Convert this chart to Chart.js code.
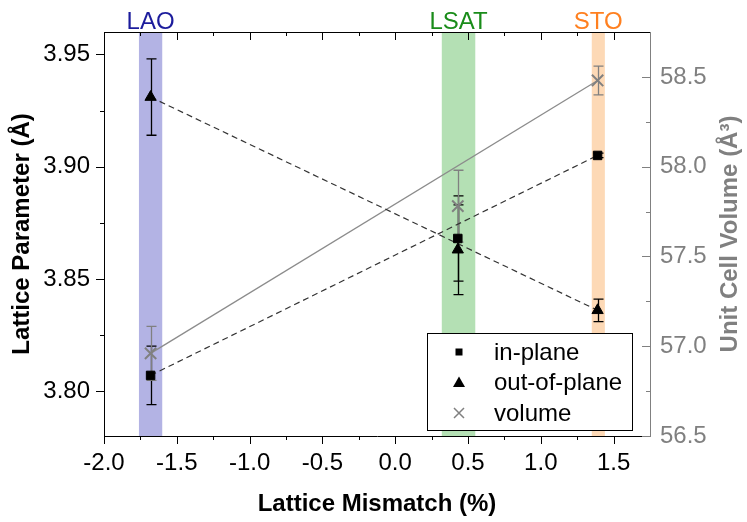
<!DOCTYPE html>
<html>
<head>
<meta charset="utf-8">
<script src="https://cdn.jsdelivr.net/npm/chart.js@4.4.1/dist/chart.umd.min.js"></script>
<style>
  html, body { margin: 0; padding: 0; background: #fff; }
  canvas { display: block; }
</style>
</head>
<body>
<canvas id="lattice-canvas" width="747" height="522"></canvas>
<script>
const FONT = '"Liberation Sans", Arial, sans-serif';

// substrates and their mismatch bands
const substrates = ['LAO', 'LSAT', 'STO'];
const mismatch = [-1.68, 0.43, 1.39];
const bandLo = [-1.76, 0.32, 1.35];
const bandHi = [-1.60, 0.55, 1.44];
const bandFill = ['#b3b3e4', '#b4e0b4', '#fdd9b6'];
const bandText = ['#1c1c9c', '#1a8c1a', '#ff8020'];

// measured values
const inPlane = [3.807, 3.868, 3.905];
const inPlaneErr = [0.013, 0.019, 0.001];
const outOfPlane = [3.931, 3.863, 3.836];
const outOfPlaneErr = [0.017, 0.020, 0.005];
const volume = [56.96, 57.78, 58.48];
const volumeErr = [0.15, 0.20, 0.08];

// axis ticks
const xTicks = [-2.0, -1.5, -1.0, -0.5, 0.0, 0.5, 1.0, 1.5];
const xMinor = [-1.75, -1.25, -0.75, -0.25, 0.25, 0.75, 1.25];
const yTicks = [3.80, 3.85, 3.90, 3.95];
const yMinor = [3.825, 3.875, 3.925];
const y2Ticks = [56.5, 57.0, 57.5, 58.0, 58.5];
const y2Minor = [56.75, 57.25, 57.75, 58.25];

const GRAY = '#808080';

function pts(xs, ys) {
    return xs.map((x, i) => ({ x: x, y: ys[i] }));
}
function ends(xs, ys) {
    const n = xs.length - 1;
    return [{ x: xs[0], y: ys[0] }, { x: xs[n], y: ys[n] }];
}

function drawErrBars(ctx, xScale, yScale, ys, errs, color) {
    ctx.strokeStyle = color;
    ctx.lineWidth = 1.3;
    mismatch.forEach((xv, i) => {
        if (!errs[i]) return;
        const px = Math.round(xScale.getPixelForValue(xv)) + 0.5;
        const top = yScale.getPixelForValue(ys[i] + errs[i]);
        const bot = yScale.getPixelForValue(ys[i] - errs[i]);
        ctx.beginPath();
        ctx.moveTo(px, top); ctx.lineTo(px, bot);
        ctx.moveTo(px - 5, top); ctx.lineTo(px + 5, top);
        ctx.moveTo(px - 5, bot); ctx.lineTo(px + 5, bot);
        ctx.stroke();
    });
}

function drawSymbol(ctx, style, x, y) {
    ctx.beginPath();
    if (style === 'rect') {
        ctx.fillStyle = '#000';
        ctx.fillRect(x - 3.5, y - 3.5, 7, 7);
    } else if (style === 'triangle') {
        ctx.fillStyle = '#000';
        ctx.moveTo(x, y - 6);
        ctx.lineTo(x + 6, y + 4.5);
        ctx.lineTo(x - 6, y + 4.5);
        ctx.closePath();
        ctx.fill();
    } else {
        ctx.strokeStyle = GRAY;
        ctx.lineWidth = 1.5;
        ctx.moveTo(x - 5, y - 5); ctx.lineTo(x + 5, y + 5);
        ctx.moveTo(x + 5, y - 5); ctx.lineTo(x - 5, y + 5);
        ctx.stroke();
    }
}

const decorPlugin = {
    id: 'decor',
    beforeDatasetsDraw(chart) {
        const { ctx, chartArea: a, scales } = chart;
        const x = scales.x;
        ctx.save();
        // substrate bands + names
        substrates.forEach((name, i) => {
            const l = x.getPixelForValue(bandLo[i]);
            const r = x.getPixelForValue(bandHi[i]);
            ctx.fillStyle = bandFill[i];
            ctx.fillRect(l, a.top + 1, r - l, a.bottom - a.top - 1);
            ctx.fillStyle = bandText[i];
            ctx.font = '24px ' + FONT;
            ctx.textAlign = 'center';
            ctx.textBaseline = 'alphabetic';
            ctx.fillText(name, (l + r) / 2, a.top - 3);
        });
        // error bars
        drawErrBars(ctx, x, scales.y, inPlane, inPlaneErr, '#000');
        drawErrBars(ctx, x, scales.y, outOfPlane, outOfPlaneErr, '#000');
        drawErrBars(ctx, x, scales.y2, volume, volumeErr, GRAY);
        ctx.restore();
    },
    afterDraw(chart) {
        const { ctx, chartArea: a, scales } = chart;
        ctx.save();
        ctx.lineWidth = 1;

        // top frame line
        ctx.strokeStyle = '#000';
        ctx.beginPath();
        ctx.moveTo(a.left, a.top + 0.5);
        ctx.lineTo(a.right, a.top + 0.5);
        ctx.stroke();

        // tick marks, major and minor
        const xTick = (vals, len) => {
            vals.forEach(v => {
                const p = Math.round(scales.x.getPixelForValue(v)) + 0.5;
                ctx.beginPath();
                ctx.moveTo(p, a.bottom); ctx.lineTo(p, a.bottom + len);
                ctx.moveTo(p, a.top); ctx.lineTo(p, a.top + len);
                ctx.stroke();
            });
        };
        const yTick = (scale, vals, len, right) => {
            vals.forEach(v => {
                const p = Math.round(scale.getPixelForValue(v)) + 0.5;
                ctx.beginPath();
                if (right) { ctx.moveTo(a.right - len, p); ctx.lineTo(a.right, p); }
                else { ctx.moveTo(a.left - len, p); ctx.lineTo(a.left, p); }
                ctx.stroke();
            });
        };
        ctx.strokeStyle = '#000';
        xTick(xTicks, 8);
        xTick(xMinor, 4);
        yTick(scales.y, yTicks, 8, false);
        yTick(scales.y, yMinor, 4, false);
        ctx.strokeStyle = GRAY;
        yTick(scales.y2, y2Ticks, 8, true);
        yTick(scales.y2, y2Minor, 4, true);

        // right axis title, reading bottom to top
        ctx.save();
        ctx.translate(730, (a.top + a.bottom) / 2);
        ctx.rotate(-Math.PI / 2);
        ctx.fillStyle = GRAY;
        ctx.font = 'bold 24px ' + FONT;
        ctx.textAlign = 'center';
        ctx.textBaseline = 'middle';
        ctx.fillText('Unit Cell Volume (Å³)', 0, 0);
        ctx.restore();

        // legend box
        const bw = 205, bh = 97;
        const bx = a.right - 18 - bw, by = a.bottom - 6 - bh;
        ctx.fillStyle = '#fff';
        ctx.fillRect(bx, by, bw, bh);
        ctx.strokeStyle = '#000';
        ctx.strokeRect(Math.round(bx) + 0.5, Math.round(by) + 0.5, bw, bh);
        const labels = ['in-plane', 'out-of-plane', 'volume'];
        const styles = ['rect', 'triangle', 'crossRot'];
        labels.forEach((t, i) => {
            const cy = by + 19 + i * 30.5;
            drawSymbol(ctx, styles[i], bx + 32, cy);
            ctx.fillStyle = '#000';
            ctx.font = '24px ' + FONT;
            ctx.textAlign = 'left';
            ctx.textBaseline = 'middle';
            ctx.fillText(t, bx + 67, cy + 1);
        });
        ctx.restore();
    }
};

new Chart(document.getElementById('lattice-canvas'), {
    type: 'scatter',
    data: {
        datasets: [
            {
                label: 'in-plane',
                data: pts(mismatch, inPlane),
                yAxisID: 'y',
                pointStyle: 'rect',
                pointRadius: 6,
                borderWidth: 1,
                backgroundColor: '#000',
                borderColor: '#000'
            },
            {
                label: 'out-of-plane',
                data: pts(mismatch, outOfPlane),
                yAxisID: 'y',
                pointStyle: 'triangle',
                pointRadius: 6.5,
                borderWidth: 1,
                backgroundColor: '#000',
                borderColor: '#000'
            },
            {
                label: 'volume',
                data: pts(mismatch, volume),
                yAxisID: 'y2',
                pointStyle: 'crossRot',
                pointRadius: 8,
                borderWidth: 2,
                backgroundColor: GRAY,
                borderColor: GRAY
            },
            {
                label: 'in-plane trend',
                data: ends(mismatch, inPlane),
                yAxisID: 'y',
                showLine: true,
                pointRadius: 0,
                borderColor: '#333',
                borderWidth: 1.2,
                borderDash: [6, 4]
            },
            {
                label: 'out-of-plane trend',
                data: ends(mismatch, outOfPlane),
                yAxisID: 'y',
                showLine: true,
                pointRadius: 0,
                borderColor: '#333',
                borderWidth: 1.2,
                borderDash: [6, 4]
            },
            {
                label: 'volume trend',
                data: ends(mismatch, volume),
                yAxisID: 'y2',
                showLine: true,
                pointRadius: 0,
                borderColor: '#8c8c8c',
                borderWidth: 1.3
            }
        ]
    },
    options: {
        responsive: false,
        animation: false,
        layout: { padding: { top: 32, left: 0, right: 0, bottom: 0 } },
        plugins: {
            legend: { display: false },
            tooltip: { enabled: false }
        },
        scales: {
            x: {
                type: 'linear',
                position: 'bottom',
                min: -2,
                max: 1.75,
                afterBuildTicks: scale => { scale.ticks = xTicks.map(v => ({ value: v })); },
                afterFit: scale => { scale.height = 86; },
                ticks: {
                    color: '#000',
                    padding: 13,
                    maxRotation: 0,
                    font: { family: FONT, size: 24 },
                    callback: v => v.toFixed(1)
                },
                grid: { display: false, drawTicks: false },
                border: { display: true, color: '#000', width: 1 },
                title: {
                    display: true,
                    text: 'Lattice Mismatch (%)',
                    color: '#000',
                    font: { family: FONT, size: 24, weight: 'bold' },
                    padding: { top: 0, bottom: 3 }
                }
            },
            y: {
                type: 'linear',
                position: 'left',
                min: 3.78,
                max: 3.96,
                afterBuildTicks: scale => { scale.ticks = yTicks.map(v => ({ value: v })); },
                afterFit: scale => { scale.width = 104; },
                ticks: {
                    color: '#000',
                    padding: 14,
                    font: { family: FONT, size: 24 },
                    callback: v => v.toFixed(2)
                },
                grid: { display: false, drawTicks: false },
                border: { display: true, color: '#000', width: 1 },
                title: {
                    display: true,
                    text: 'Lattice Parameter (Å)',
                    color: '#000',
                    font: { family: FONT, size: 24, weight: 'bold' },
                    padding: { top: 8, bottom: 0 }
                }
            },
            y2: {
                type: 'linear',
                position: 'right',
                min: 56.5,
                max: 58.75,
                afterBuildTicks: scale => { scale.ticks = y2Ticks.map(v => ({ value: v })); },
                afterFit: scale => { scale.width = 97; },
                ticks: {
                    color: GRAY,
                    padding: 10,
                    font: { family: FONT, size: 24 },
                    callback: v => v.toFixed(1)
                },
                grid: { display: false, drawTicks: false },
                border: { display: true, color: GRAY, width: 1 }
            }
        }
    },
    plugins: [decorPlugin]
});
</script>
</body>
</html>
